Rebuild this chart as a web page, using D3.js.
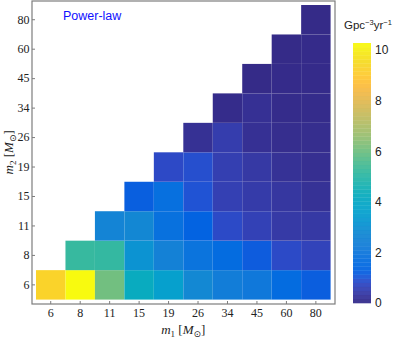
<!DOCTYPE html>
<html><head><meta charset="utf-8">
<script src="https://cdn.jsdelivr.net/npm/d3@7"></script>
<style>
html,body{margin:0;padding:0;background:#fff;}
svg{display:block;}
</style></head>
<body>
<div id="chart"></div>
<script>
// ---- data ----
const m1Labels = ["6","8","11","15","19","26","34","45","60","80"];
const m2Labels = ["6","8","11","15","19","26","34","45","60","80"];
// merger rate (Gpc^-3 yr^-1); row k = m2Labels[k], values for m1 from m2 up to 80
const rateM2_6  = [9.3, 10.25, 6.05, 4.2, 3.6, 2.75, 2.3, 2.1, 1.6, 1.2];
const rateM2_8  = [5.2, 5.15, 3.1, 2.45, 1.9, 1.6, 1.15, 0.82, 0.65];
const rateM2_11 = [2.55, 2.7, 1.8, 1.3, 0.82, 0.6, 0.4, 0.38];
const rateM2_15 = [1.22, 1.75, 0.98, 0.57, 0.44, 0.33, 0.2];
const rateM2_19 = [0.8, 0.9, 0.54, 0.38, 0.2, 0.14];
const rateM2_26 = [0.18, 0.49, 0.17, 0.1, 0.1];
const rateM2_34 = [0.05, 0.17, 0.06, 0.06];
const rateM2_45 = [0.02, 0.04, 0.04];
const rateM2_60 = [0.02, 0.04];
const rateM2_80 = [0.02];
const rateRows = [rateM2_6, rateM2_8, rateM2_11, rateM2_15, rateM2_19, rateM2_26, rateM2_34, rateM2_45, rateM2_60, rateM2_80];
const colorTicks = [0, 2, 4, 6, 8, 10];
const colorMax = 10.28;
const modelLabel = "Power-law";

// ---- colormap (parula) ----
const parula = [[0.2081,0.1663,0.5292],[0.2116,0.1898,0.5777],[0.2123,0.2138,0.6270],[0.2081,0.2386,0.6771],[0.1959,0.2645,0.7279],[0.1707,0.2919,0.7792],[0.1253,0.3242,0.8303],[0.0591,0.3598,0.8683],[0.0117,0.3875,0.8820],[0.0060,0.4086,0.8828],[0.0165,0.4266,0.8786],[0.0329,0.4430,0.8720],[0.0498,0.4586,0.8641],[0.0629,0.4737,0.8554],[0.0723,0.4887,0.8467],[0.0779,0.5040,0.8384],[0.0793,0.5200,0.8312],[0.0749,0.5375,0.8263],[0.0641,0.5570,0.8240],[0.0488,0.5772,0.8228],[0.0343,0.5966,0.8199],[0.0265,0.6137,0.8135],[0.0239,0.6287,0.8038],[0.0231,0.6418,0.7913],[0.0228,0.6535,0.7768],[0.0267,0.6642,0.7607],[0.0384,0.6743,0.7436],[0.0590,0.6838,0.7254],[0.0843,0.6928,0.7062],[0.1133,0.7015,0.6859],[0.1453,0.7098,0.6646],[0.1801,0.7177,0.6424],[0.2178,0.7250,0.6193],[0.2586,0.7317,0.5954],[0.3022,0.7376,0.5712],[0.3482,0.7424,0.5473],[0.3953,0.7459,0.5244],[0.4420,0.7481,0.5033],[0.4871,0.7491,0.4840],[0.5300,0.7491,0.4661],[0.5709,0.7485,0.4494],[0.6099,0.7473,0.4337],[0.6473,0.7456,0.4188],[0.6834,0.7435,0.4044],[0.7184,0.7411,0.3905],[0.7525,0.7384,0.3768],[0.7858,0.7356,0.3633],[0.8185,0.7327,0.3498],[0.8507,0.7299,0.3360],[0.8824,0.7274,0.3217],[0.9139,0.7258,0.3063],[0.9450,0.7261,0.2886],[0.9739,0.7314,0.2666],[0.9938,0.7455,0.2403],[0.9990,0.7653,0.2164],[0.9955,0.7861,0.1967],[0.9880,0.8066,0.1794],[0.9789,0.8271,0.1633],[0.9697,0.8481,0.1475],[0.9626,0.8705,0.1309],[0.9589,0.8949,0.1132],[0.9598,0.9218,0.0948],[0.9661,0.9514,0.0755],[0.9763,0.9831,0.0538]]
  .map(c => d3.rgb(c[0]*255, c[1]*255, c[2]*255).toString());
const interp = d3.piecewise(d3.interpolateRgb, parula);
const color = d3.scaleSequential(interp).domain([0, colorMax]).clamp(true);

// ---- layout ----
const W = 399, H = 339;
const frame = {x0: 32, y0: 1, x1: 335, y1: 304};
const cells = {x0: 36, y0: 5, x1: 330.6, y1: 299.6};

const svg = d3.select("#chart").append("svg").attr("width", W).attr("height", H);

const x = d3.scaleBand().domain(m1Labels).range([cells.x0, cells.x1]).padding(0);
const y = d3.scaleBand().domain(m2Labels).range([cells.y1, cells.y0]).padding(0);

const cellData = [];
rateRows.forEach((row, j) => {
  row.forEach((v, k) => {
    cellData.push({m1: m1Labels[j + k], m2: m2Labels[j], v});
  });
});

svg.append("g").selectAll("rect").data(cellData).join("rect")
  .attr("x", d => x(d.m1))
  .attr("y", d => y(d.m2))
  .attr("width", x.bandwidth())
  .attr("height", y.bandwidth())
  .attr("fill", d => color(d.v))
  .attr("stroke", "rgba(255,255,255,0.04)")
  .attr("stroke-width", 0.5);

// frame
svg.append("rect")
  .attr("x", frame.x0).attr("y", frame.y0)
  .attr("width", frame.x1 - frame.x0).attr("height", frame.y1 - frame.y0)
  .attr("fill", "none").attr("stroke", "#7d7d7d").attr("stroke-width", 1.2);

// axes
const serif = "'Liberation Serif','Times New Roman',serif";
const xAxis = svg.append("g").attr("transform", `translate(0,${frame.y1})`)
  .call(d3.axisBottom(x).tickSizeInner(-3).tickSizeOuter(0).tickPadding(4));
const yAxis = svg.append("g").attr("transform", `translate(${frame.x0},0)`)
  .call(d3.axisLeft(y).tickSizeInner(-3).tickSizeOuter(0).tickPadding(2.5));
[xAxis, yAxis].forEach(g => {
  g.select(".domain").remove();
  g.selectAll(".tick line").attr("stroke", "#7d7d7d");
  g.selectAll(".tick text").attr("font-family", serif).attr("font-size", 12).attr("fill", "#222");
});

// axis labels
function massLabel(g, idx) {
  const t = g.append("text").attr("font-family", serif).attr("font-size", 13).attr("fill", "#222")
    .attr("text-anchor", "middle");
  t.append("tspan").attr("font-style", "italic").text("m");
  t.append("tspan").attr("font-size", 9).attr("dy", 3).text(idx);
  t.append("tspan").attr("dy", -3).text(" [");
  t.append("tspan").attr("font-style", "italic").text("M");
  t.append("tspan").attr("font-size", 9).attr("dy", 3).attr("font-family", "'DejaVu Sans',sans-serif").text("\u2299");
  t.append("tspan").attr("dy", -3).text("]");
  return t;
}
const cx = (cells.x0 + cells.x1) / 2, cy = (cells.y0 + cells.y1) / 2;
massLabel(svg.append("g").attr("transform", `translate(${cx},334)`), "1");
massLabel(svg.append("g").attr("transform", `translate(13,${cy}) rotate(-90)`), "2");

// model label
svg.append("text").attr("x", 63).attr("y", 20)
  .attr("font-family", "'Liberation Sans',Arial,sans-serif").attr("font-size", 12.5)
  .attr("fill", "#1010ff").text(modelLabel);

// colorbar
const cb = {x0: 353, x1: 371, y0: 43, y1: 303};
const cbScale = d3.scaleLinear().domain([0, colorMax]).range([cb.y1, cb.y0]);
const nBands = 64;
const bands = d3.range(nBands).map(i => ({lo: colorMax * i / nBands, hi: colorMax * (i + 1) / nBands}));
svg.append("g").selectAll("rect").data(bands).join("rect")
  .attr("x", cb.x0).attr("width", cb.x1 - cb.x0)
  .attr("y", d => cbScale(d.hi))
  .attr("height", d => cbScale(d.lo) - cbScale(d.hi) + 0.3)
  .attr("fill", d => color((d.lo + d.hi) / 2))
  .attr("opacity", 0.95);

const cbAxis = svg.append("g").attr("transform", `translate(${cb.x1},0)`)
  .call(d3.axisRight(cbScale).tickValues(colorTicks).tickSize(0).tickPadding(4));
cbAxis.select(".domain").remove();
cbAxis.selectAll(".tick text").attr("font-family", "'Liberation Sans',Arial,sans-serif")
  .attr("font-size", 12).attr("fill", "#222");

const unit = svg.append("text").attr("x", 344).attr("y", 29)
  .attr("font-family", "'Liberation Sans',Arial,sans-serif").attr("font-size", 11.5).attr("fill", "#222");
unit.append("tspan").text("Gpc");
unit.append("tspan").attr("font-size", 7.5).attr("dy", -4).text("\u22123");
unit.append("tspan").attr("dy", 4).text("yr");
unit.append("tspan").attr("font-size", 7.5).attr("dy", -4).text("\u22121");
</script>
</body></html>
